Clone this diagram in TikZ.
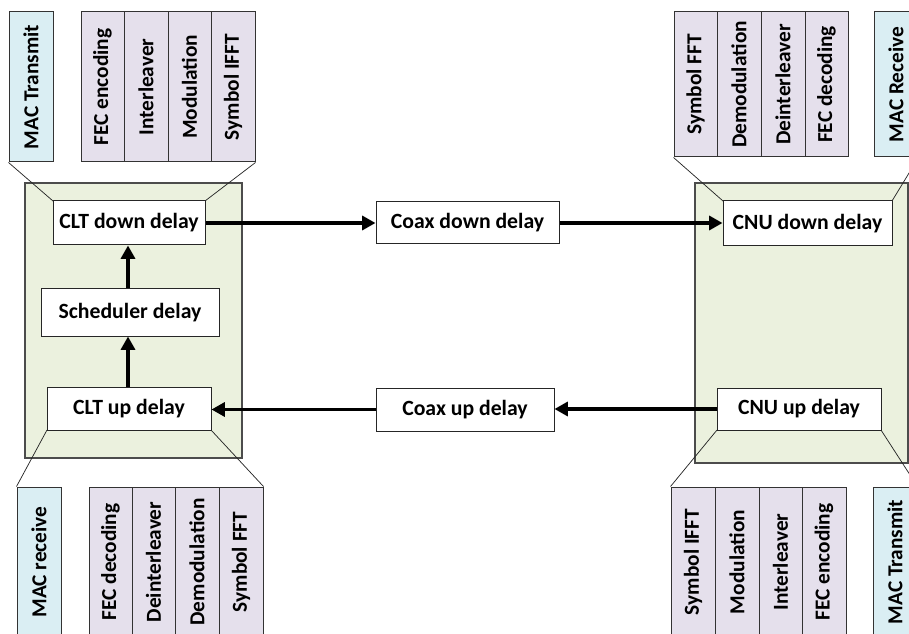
\documentclass[tikz,border=0pt]{standalone}
\usepackage{fontspec}
\usepackage{graphicx}
\setmainfont{Carlito}
\usetikzlibrary{arrows.meta}

\definecolor{panelgreen}{HTML}{EBF1DE}
\definecolor{stagepurple}{HTML}{E5E0EC}
\definecolor{macblue}{HTML}{DAEEF3}

% box given by its corners (x1,y1) (x2,y2) in pixel units
\newcommand\pxbox[7]{%
  \node[#6, minimum width={(#4-#2)*0.75pt}, minimum height={(#5-#3)*0.75pt}]
    (#1) at ({(#2+#4)/2},{(#3+#5)/2}) {#7};}
% cell with text set bottom-to-top
\newcommand\pxcell[7]{\pxbox{#1}{#2}{#3}{#4}{#5}{#6}{\rotatebox{90}{#7}}}

\begin{document}
\begin{tikzpicture}[x=0.75pt,y=-0.75pt,
  panel/.style={draw=black!70, line width=1pt, fill=panelgreen, inner sep=0pt},
  delaybox/.style={draw=black!85, line width=0.75pt, fill=white, inner sep=0pt,
    font=\fontsize{16.3}{19}\selectfont\bfseries},
  stage/.style={draw=black!80, line width=0.75pt, fill=stagepurple, inner sep=0pt,
    font=\fontsize{16}{18}\selectfont\bfseries},
  mac/.style={stage, fill=macblue},
  funnel/.style={draw=black!85, line width=0.55pt},
  flow/.style={line width=2.4pt, -{Triangle[length=10pt,width=10.5pt]}}]

\useasboundingbox (0,0) rectangle (909,634);
\clip (0,0) rectangle (909,634);

% ---- CLT and CNU panels
\pxbox{clt}{25}{183}{242}{458}{panel}{}
\pxbox{cnu}{695}{183}{908}{463}{panel}{}

% ---- CLT downstream processing chain
\pxcell{mactxL}{9}{12}{53}{162}{mac}{MAC Transmit}
\pxcell{fecencL}{81}{12}{124}{162}{stage}{FEC encoding}
\pxcell{intlvL}{124}{12}{168}{162}{stage}{Interleaver}
\pxcell{modL}{168}{12}{211}{162}{stage}{Modulation}
\pxcell{ifftL}{211}{12}{255}{162}{stage}{Symbol IFFT}

% ---- CLT upstream processing chain
\pxcell{macrxL}{17}{487}{61}{637}{mac}{MAC receive}
\pxcell{fecdecL}{89}{487}{132}{637}{stage}{FEC decoding}
\pxcell{deintL}{132}{487}{175}{637}{stage}{Deinterleaver}
\pxcell{demodL}{175}{487}{219}{637}{stage}{Demodulation}
\pxcell{fftL}{219}{487}{263}{637}{stage}{Symbol FFT}

% ---- CNU downstream processing chain
\pxcell{fftR}{674}{12}{717}{157}{stage}{Symbol FFT}
\pxcell{demodR}{717}{12}{761}{157}{stage}{Demodulation}
\pxcell{deintR}{761}{12}{805}{157}{stage}{Deinterleaver}
\pxcell{fecdecR}{805}{12}{848}{157}{stage}{FEC decoding}
\pxcell{macrxR}{874}{12}{918}{157}{mac}{MAC Receive}

% ---- CNU upstream processing chain
\pxcell{ifftR}{671}{487}{715}{637}{stage}{Symbol IFFT}
\pxcell{modR}{715}{487}{759}{637}{stage}{Modulation}
\pxcell{intlvR}{759}{487}{802}{637}{stage}{Interleaver}
\pxcell{fecencR}{802}{487}{846}{637}{stage}{FEC encoding}
\pxcell{mactxR}{873}{487}{917}{637}{mac}{MAC Transmit}

% ---- funnels from the delay blocks to their chains
\path[funnel] (mactxL.south west) -- (53,201);
\path[funnel] (ifftL.south east) -- (205,201);
\path[funnel] (47,430) -- (macrxL.north west);
\path[funnel] (211,430) -- (fftL.north east);
\path[funnel] (fftR.south west) -- (723,201);
\path[funnel] (macrxR.south east) -- (892,201);
\path[funnel] (717,430) -- (ifftR.north west);
\path[funnel] (881,430) -- (mactxR.north east);

% ---- delay blocks
\pxbox{cltdown}{53}{201}{205}{245}{delaybox}{CLT down delay}
\pxbox{sched}{41}{289}{219}{336}{delaybox}{Scheduler delay}
\pxbox{cltup}{47}{387}{211}{430}{delaybox}{CLT up delay}
\pxbox{coaxdown}{376}{202}{559}{244}{delaybox}{Coax down delay}
\pxbox{coaxup}{376}{388}{554}{431}{delaybox}{Coax up delay}
\pxbox{cnudown}{723}{201}{892}{246}{delaybox}{CNU down delay}
\pxbox{cnuup}{717}{388}{881}{430}{delaybox}{CNU up delay}

% ---- delay path
\draw[flow] (cltup.north -| 128,0) -- (sched.south -| 128,0);
\draw[flow] (sched.north -| 128,0) -- (cltdown.south -| 128,0);
\draw[flow] (cltdown.east) -- (coaxdown.west);
\draw[flow] (coaxdown.east) -- (coaxdown.east -| cnudown.west);
\draw[flow] (cnuup.west) -- (cnuup.west -| coaxup.east);
\draw[flow] (coaxup.west) -- (coaxup.west -| cltup.east);

\end{tikzpicture}
\end{document}
